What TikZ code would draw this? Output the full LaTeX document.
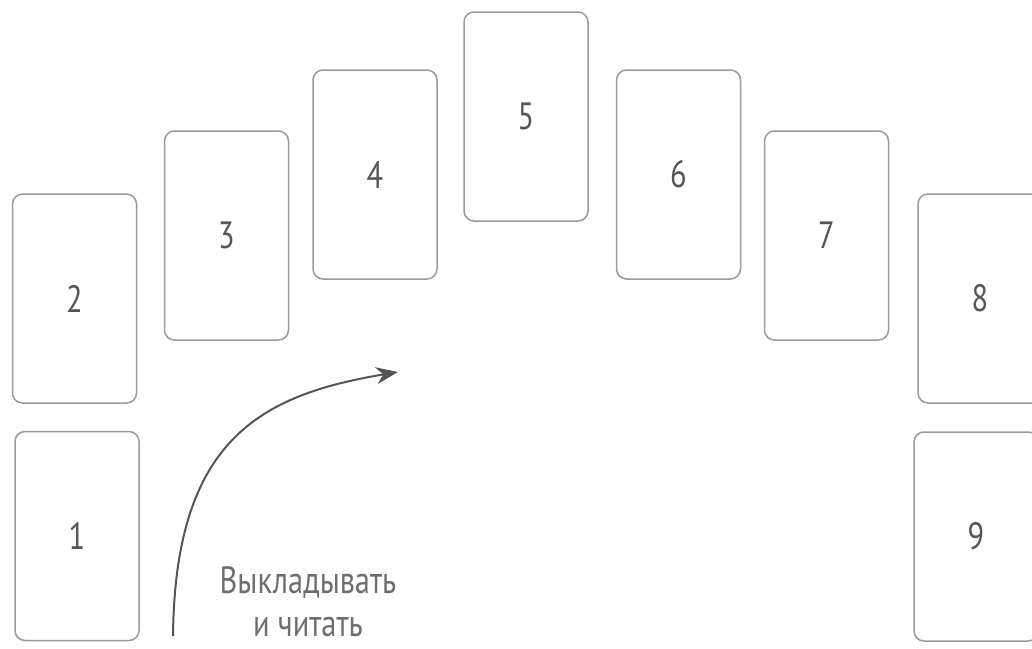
\documentclass[tikz,border=0pt]{standalone}
\usepackage{fontspec}
\setmainfont{PT Sans}[FakeStretch=0.8]
\usepackage{tikz}
\usetikzlibrary{arrows.meta}
\usepackage{xcolor}
\definecolor{cardline}{HTML}{9A9A9A}
\definecolor{ink}{HTML}{555555}

\tikzset{
  card/.style={draw=cardline, line width=0.75pt, rounded corners=5pt,
    minimum width=62pt, minimum height=104.5pt, inner sep=0pt,
    text=ink, font=\fontsize{19}{22}\selectfont},
  order/.style={draw=ink, line width=1pt, -{Stealth[length=11pt,width=8.5pt]}}
}

\begin{document}
\begin{tikzpicture}[x=0.5pt,y=-0.5pt]
    \useasboundingbox (0,0) rectangle (1032,648);
    \clip (0,0) rectangle (1032,648);
    % the nine cards
    \node[card] (c1) at (77,536) {1};
    \node[card] (c2) at (74.5,298.5) {2};
    \node[card] (c3) at (226.5,235.5) {3};
    \node[card] (c4) at (375,174.5) {4};
    \node[card] (c5) at (526,116.5) {5};
    \node[card] (c6) at (678.5,174.5) {6};
    \node[card] (c7) at (826.5,235.5) {7};
    \node[card] (c8) at (980,298.5) {8};
    \node[card] (c9) at (976,536.5) {9};
    % reading order
    \coordinate (from) at (173,636);
    \coordinate (to) at (398,372);
    \draw[order] (from) .. controls (175,440) and (260,395) .. (to);
    \node[text=ink!85, font=\fontsize{19}{21.5}\selectfont, align=center,
      inner sep=0pt, anchor=base] (say) at (308,636) {Выкладывать\\и читать};
\end{tikzpicture}
\end{document}
